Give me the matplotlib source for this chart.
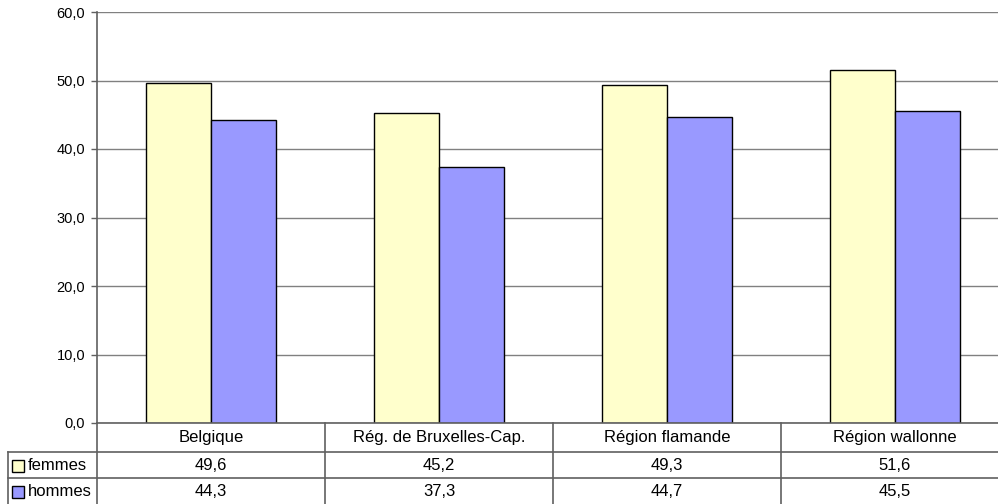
#!/usr/bin/python3

### Imports
import matplotlib
matplotlib.use('Agg')
from matplotlib import pyplot as plt
from matplotlib.transforms import blended_transform_factory
import matplotlib.patches as mpatches
import numpy as np

# data
categories = ['Belgique', 'Rég. de Bruxelles-Cap.', 'Région flamande', 'Région wallonne']
femmes = [49.6, 45.2, 49.3, 51.6]
hommes = [44.3, 37.3, 44.7, 45.5]
series_names = ['femmes', 'hommes']
y_ticks = [0, 10, 20, 30, 40, 50, 60]

colors = ['#FFFFCC', '#9999FF']
line_col = '#606060'
grid_col = '#808080'

plt.rcParams['font.family'] = ['Liberation Sans', 'DejaVu Sans']

W, H = 998, 504

def fy(y):
	# pixel row -> figure fraction
	return 1 - y / H

fig = plt.figure(figsize=(W / 100, H / 100), dpi=100)
# plot area, right edge runs past the picture like in the original
ax = fig.add_axes([97 / W, fy(423), (1009 - 97) / W, (423 - 12) / H])

x = np.arange(len(categories))
bw = 0.285
ax.bar(x - bw / 2, femmes, bw, color=colors[0], edgecolor='black', linewidth=1, zorder=3)
ax.bar(x + bw / 2, hommes, bw, color=colors[1], edgecolor='black', linewidth=1, zorder=3)

ax.set_xlim(-0.5, len(categories) - 0.5)
ax.set_ylim(0, 60)
ax.set_yticks(y_ticks)
ax.set_yticklabels(['{0:.1f}'.format(v).replace('.', ',') for v in y_ticks])
ax.set_xticks([])
ax.yaxis.grid(True, color=grid_col, linewidth=1)
ax.set_axisbelow(True)
ax.tick_params(axis='y', length=4, width=1, color=line_col, labelsize=10.5, pad=4.5)
for s in ['top', 'right', 'bottom']:
	ax.spines[s].set_visible(False)
ax.spines['left'].set_color(line_col)
ax.spines['left'].set_linewidth(1.2)

# data table under the plot
tr = blended_transform_factory(ax.transData, fig.transFigure)
row_edges = [423, 452, 478, 505]
kw = dict(color=line_col, linewidth=1.2, clip_on=False)
fs = 12

# horizontal rules
fig.add_artist(plt.Line2D([97 / W, 1], [fy(423), fy(423)], transform=fig.transFigure, **kw))
for y in row_edges[1:3]:
	fig.add_artist(plt.Line2D([8 / W, 1], [fy(y), fy(y)], transform=fig.transFigure, **kw))
# left border of legend column
fig.add_artist(plt.Line2D([8 / W, 8 / W], [fy(452), fy(505)], transform=fig.transFigure, **kw))
# category separators
for b in np.arange(len(categories)) - 0.5:
	fig.add_artist(plt.Line2D([b, b], [fy(423), fy(505)], transform=tr, **kw))

# category names and values
for i, cat in enumerate(categories):
	fig.text(i, fy(437.5), cat, transform=tr, ha='center', va='center', fontsize=fs)
	fig.text(i, fy(465), '{0:.1f}'.format(femmes[i]).replace('.', ','), transform=tr,
		ha='center', va='center', fontsize=fs)
	fig.text(i, fy(491.5), '{0:.1f}'.format(hommes[i]).replace('.', ','), transform=tr,
		ha='center', va='center', fontsize=fs)

# legend keys
for j, name in enumerate(series_names):
	yc = [465, 491.5][j]
	fig.add_artist(mpatches.Rectangle((12 / W, fy(yc + 6.5)), 12 / W, 12 / H,
		transform=fig.transFigure, facecolor=colors[j], edgecolor='black', linewidth=1))
	fig.text(28 / W, fy(yc), name, ha='left', va='center', fontsize=fs)

fig.savefig('out.png', dpi=100)
